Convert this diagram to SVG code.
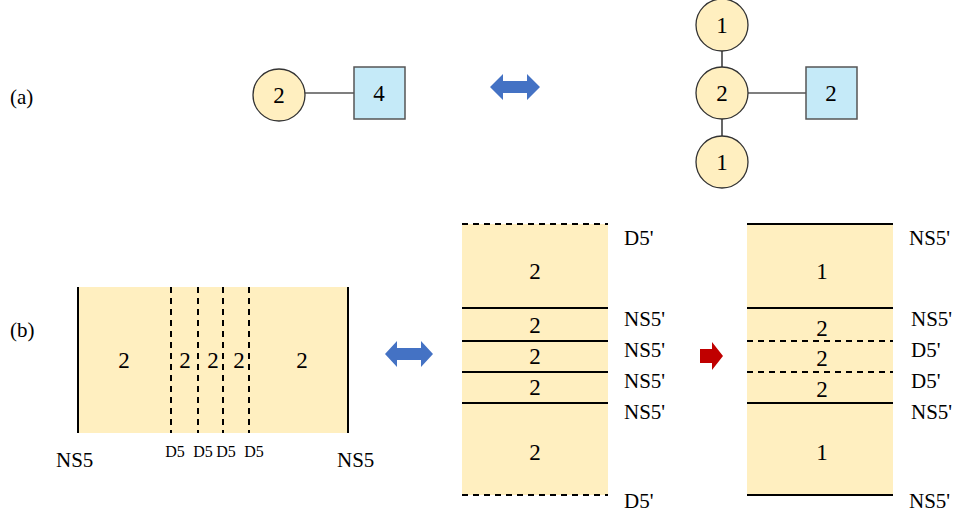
<svg xmlns="http://www.w3.org/2000/svg" width="963" height="520" viewBox="0 0 963 520" font-family="'Liberation Serif', 'Times New Roman', 'DejaVu Serif', serif">
<style>
text{font-family:'Liberation Serif','Times New Roman','DejaVu Serif',serif;fill:#000}
.lbl{font-size:21px}
.num{font-size:23px;text-anchor:middle}
.sm{font-size:16px;text-anchor:middle}
.circ{fill:#FFEFC0;stroke:#333;stroke-width:1.3}
.sq{fill:#C5EAF8;stroke:#555;stroke-width:1.5}
.band{fill:#FFEFC0;stroke:none}
.sol{stroke:#000;stroke-width:2;fill:none}
.dash{stroke:#000;stroke-width:2;stroke-dasharray:6,5;fill:none}
.thin{stroke:#000;stroke-width:1.2}
</style>
<text class="lbl" x="10" y="104" font-family="Liberation Serif">(a)</text>
<text class="lbl" x="10" y="337" font-family="Liberation Serif">(b)</text>

<g id="connectors">
<line class="thin" x1="305" y1="93" x2="354" y2="93"/>
<line class="thin" x1="722" y1="51" x2="722" y2="67"/>
<line class="thin" x1="722" y1="119" x2="722" y2="136"/>
<line class="thin" x1="748" y1="93" x2="806" y2="93"/>
</g>

<g id="a-left-circle" font-family="Liberation Serif"><circle class="circ" cx="279" cy="95" r="26"/><text class="num" x="279" y="103">2</text></g>
<g id="a-left-square" font-family="Liberation Serif"><rect class="sq" x="354" y="67" width="51" height="52"/><text class="num" x="379" y="101">4</text></g>

<g id="arrow-a"><polygon fill="#4472C4" points="490,87 503,74 503,81 527,81 527,74 540,87 527,100 527,93 503,93 503,100"/></g>

<g id="a-top-circle" font-family="Liberation Serif"><circle class="circ" cx="722" cy="25" r="26"/><text class="num" x="722" y="33">1</text></g>
<g id="a-mid-circle" font-family="Liberation Serif"><circle class="circ" cx="722" cy="93" r="26"/><text class="num" x="722" y="101">2</text></g>
<g id="a-bot-circle" font-family="Liberation Serif"><circle class="circ" cx="722" cy="162" r="26"/><text class="num" x="722" y="170">1</text></g>
<g id="a-right-square" font-family="Liberation Serif"><rect class="sq" x="806" y="67" width="51" height="52"/><text class="num" x="831" y="101">2</text></g>

<g id="b-left" font-family="Liberation Serif">
<rect class="band" x="78" y="287" width="270" height="146"/>
<line class="sol" x1="78" y1="287" x2="78" y2="433"/>
<line class="sol" x1="348" y1="287" x2="348" y2="433"/>
<line class="dash" x1="171" y1="287" x2="171" y2="433"/>
<line class="dash" x1="198" y1="287" x2="198" y2="433"/>
<line class="dash" x1="223" y1="287" x2="223" y2="433"/>
<line class="dash" x1="249" y1="287" x2="249" y2="433"/>
<text class="num" x="124" y="368">2</text>
<text class="num" x="185" y="368">2</text>
<text class="num" x="213" y="368">2</text>
<text class="num" x="239" y="368">2</text>
<text class="num" x="302" y="368">2</text>
<text class="lbl" x="56" y="467">NS5</text>
<text class="lbl" x="337" y="467">NS5</text>
<text class="sm" x="175" y="457">D5</text>
<text class="sm" x="203" y="457">D5</text>
<text class="sm" x="226" y="457">D5</text>
<text class="sm" x="254" y="457">D5</text>
</g>

<g id="arrow-b"><polygon fill="#4472C4" points="385,354 397,341 397,348 421,348 421,341 433,354 421,367 421,360 397,360 397,367"/></g>

<g id="b-mid" font-family="Liberation Serif">
<rect class="band" x="462" y="224" width="146" height="271"/>
<line class="dash" x1="462" y1="224" x2="608" y2="224"/>
<line class="sol" x1="462" y1="308" x2="608" y2="308"/>
<line class="sol" x1="462" y1="341" x2="608" y2="341"/>
<line class="sol" x1="462" y1="372" x2="608" y2="372"/>
<line class="sol" x1="462" y1="403" x2="608" y2="403"/>
<line class="dash" x1="462" y1="495" x2="608" y2="495"/>
<text class="num" x="535" y="279">2</text>
<text class="num" x="535" y="333">2</text>
<text class="num" x="535" y="364">2</text>
<text class="num" x="535" y="395">2</text>
<text class="num" x="535" y="460">2</text>
<text class="lbl" x="624" y="245">D5'</text>
<text class="lbl" x="624" y="326">NS5'</text>
<text class="lbl" x="624" y="357">NS5'</text>
<text class="lbl" x="624" y="388">NS5'</text>
<text class="lbl" x="624" y="419">NS5'</text>
<text class="lbl" x="624" y="508">D5'</text>
</g>

<g id="arrow-red"><polygon fill="#C00000" points="700,349 712,349 712,342 723,356 712,370 712,363 700,363"/></g>

<g id="b-right" font-family="Liberation Serif">
<rect class="band" x="747" y="224" width="146" height="271"/>
<line class="sol" x1="747" y1="224" x2="893" y2="224"/>
<line class="sol" x1="747" y1="308" x2="893" y2="308"/>
<line class="dash" x1="747" y1="341" x2="893" y2="341"/>
<line class="dash" x1="747" y1="372" x2="893" y2="372"/>
<line class="sol" x1="747" y1="403" x2="893" y2="403"/>
<line class="sol" x1="747" y1="495" x2="893" y2="495"/>
<text class="num" x="822" y="279">1</text>
<text class="num" x="822" y="336">2</text>
<text class="num" x="822" y="366">2</text>
<text class="num" x="822" y="397">2</text>
<text class="num" x="822" y="460">1</text>
<text class="lbl" x="909" y="245">NS5'</text>
<text class="lbl" x="911" y="326">NS5'</text>
<text class="lbl" x="911" y="357">D5'</text>
<text class="lbl" x="911" y="388">D5'</text>
<text class="lbl" x="911" y="419">NS5'</text>
<text class="lbl" x="909" y="508">NS5'</text>
</g>
</svg>
